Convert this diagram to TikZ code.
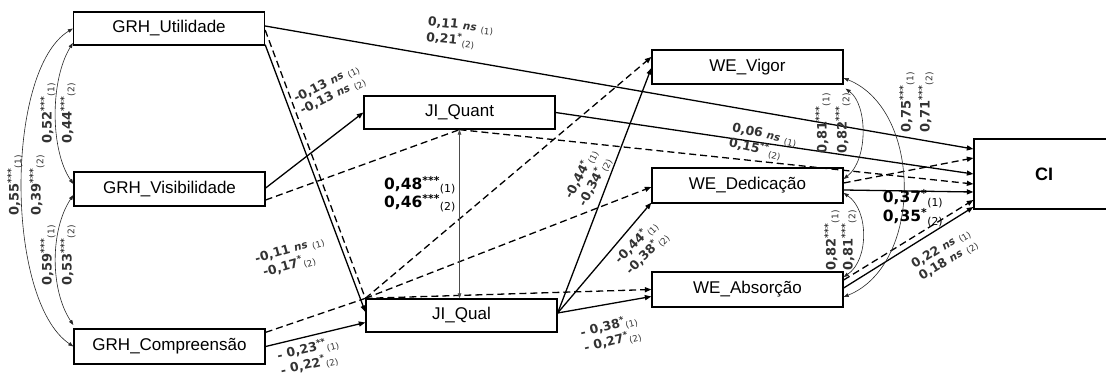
\documentclass[tikz,border=0pt]{standalone}
\usepackage{fontspec}
\setmainfont{Liberation Sans}
\newfontfamily\labfont{DejaVu Sans}
\usetikzlibrary{arrows.meta}
\newcommand\st[1]{\textsuperscript{#1}}
\newcommand\ix[1]{\textsubscript{\mdseries\upshape(#1)}}
\newcommand\nsx{{\itshape\fontsize{10.5}{12}\selectfont ns}}
\begin{document}
\begin{tikzpicture}[x=1pt,y=-1pt,
  box/.style={draw, line width=1.3pt, minimum width=191pt, minimum height=33pt, inner sep=0pt, font=\fontsize{17}{17}\selectfont},
  pth/.style={line width=1.3pt, -{Triangle[length=6.5pt,width=5pt]}},
  ind/.style={line width=1.3pt, dash pattern=on 7pt off 4pt},
  inda/.style={ind, -{Triangle[length=6.5pt,width=5pt]}},
  corr/.style={line width=0.6pt, black!85, {Triangle[length=5pt,width=3.6pt]}-{Triangle[length=5pt,width=3.6pt]}},
  lab/.style={font=\labfont\bfseries\fontsize{12.5}{14}\selectfont, text=black!80, align=left, inner sep=0pt},
  big/.style={font=\labfont\bfseries\fontsize{15.5}{18}\selectfont, align=left, inner sep=0pt},
  rlab/.style={lab, rotate=90, font=\labfont\bfseries\fontsize{13}{15}\selectfont},
]
\clip (0,0) rectangle (1106,385);
% boxes
\node[box] (uti) at (169,28.5) {GRH\_Utilidade};
\node[box, minimum height=34pt] (vis) at (169.5,189) {GRH\_Visibilidade};
\node[box, minimum height=35pt] (com) at (169.5,346.5) {GRH\_Compreensão};
\node[box] (jqt) at (459.5,112.5) {JI\_Quant};
\node[box] (jql) at (461.5,315.5) {JI\_Qual};
\node[box, minimum height=34pt] (vig) at (747.5,67) {WE\_Vigor};
\node[box, minimum height=35pt] (ded) at (747.5,185.5) {WE\_Dedicação};
\node[box, minimum height=35pt] (wab) at (747.5,289.5) {WE\_Absorção};
\node[box, minimum width=140pt, minimum height=70pt, font=\bfseries\fontsize{18}{18}\selectfont] (ci) at (1044,174) {CI};
% direct paths
\draw[pth] ([shift={(0,-2.5)}]uti.east) -- ([shift={(0,-25)}]ci.west);
\draw[pth] ([shift={(0,-1)}]uti.south east) -- ([shift={(0,-3.5)}]jql.west);
\draw[pth] ([shift={(0,-1)}]vis.east) -- (jqt.west);
\draw[pth] (com.east) -- ([shift={(0,7)}]jql.west);
\draw[pth] (jqt.east) -- (ci.west);
\draw[pth] ([shift={(0,-2.5)}]jql.east) -- ([shift={(0,1)}]vig.west);
\draw[pth] ([shift={(0,-2.5)}]jql.east) -- ([shift={(0,-1)}]ded.south west);
\draw[pth] ([shift={(0,-2.5)}]jql.east) -- ([shift={(0,7)}]wab.west);
\draw[pth] ([shift={(0,4.5)}]ded.east) -- ([shift={(0,18)}]ci.west);
\draw[pth] ([shift={(0,-1.5)}]wab.east) -- ([shift={(0,33)}]ci.west);
% indirect (dashed) paths
\draw[ind] ([shift={(0,1.5)}]uti.east) -- (jql.north west);
\draw[ind] ([shift={(0,4)}]com.north east) -- (jql.north west);
\draw[inda] (jql.north west) -- ([shift={(0,-10)}]vig.west);
\draw[inda] (jql.north west) -- ([shift={(0,1.5)}]ded.west);
\draw[inda] (jql.north west) -- (wab.west);
\draw[ind] ([shift={(0,11)}]vis.east) -- (jqt.south);
\draw[inda] (jqt.south) -- ([shift={(0,10)}]ci.west);
\draw[inda] ([shift={(0,-2.5)}]ded.east) -- ([shift={(0,-16)}]ci.west);
\draw[inda] ([shift={(0,-9.5)}]wab.east) -- ([shift={(0,26)}]ci.west);
% correlations
\draw[corr] ([shift={(0,14.5)}]uti.west) .. controls (50,80) and (50,150) .. ([shift={(0,-5)}]vis.west);
\draw[corr] ([shift={(0,6)}]vis.west) .. controls (50,230) and (50,290) .. ([shift={(0,-21.5)}]com.west);
\draw[corr] (uti.west) .. controls (5,70) and (5,300) .. (com.west);
\draw[corr] ([shift={(2,4)}]vig.south east) .. controls (868,105) and (868,160) .. ([shift={(0,-6.5)}]ded.east);
\draw[corr] ([shift={(0,11)}]vig.east) .. controls (923,110) and (923,265) .. ([shift={(0,7.5)}]wab.east);
\draw[corr] ([shift={(0,7.5)}]ded.east) .. controls (869,210) and (869,260) .. ([shift={(0,-12.5)}]wab.east);
\draw[corr, line width=0.7pt, black!70] (jqt.south) -- (jqt.south |- jql.north);
% path labels
\node[lab, rotate=-6] (l1) at (460,34) {0,11 \nsx\ \ix{1}\\0,21\st{*}\ix{2}};
\node[lab, rotate=27] (l2) at (330,90) {-0,13 \nsx\ \ix{1}\\-0,13 \nsx\ \ix{2}};
\node[lab, rotate=16] (l3) at (292,258) {-0,11 \nsx\ \ix{1}\\\hspace{4pt}-0,17\st{*}\ix{2}};
\node[lab, rotate=13] (l4) at (310,357) {- 0,23\st{**}\ix{1}\\- 0,22\st{*}\ix{2}};
\node[big] (l5) at (420,194) {0,48\st{***}\ix{1}\\0,46\st{***}\ix{2}};
\node[lab, rotate=62] (l6) at (588,178) {-0,44\st{*}\ix{1}\\-0,34\st{*}\ix{2}};
\node[lab, rotate=45] (l7) at (642,248) {-0,44\st{*}\ix{1}\\-0,38\st{*}\ix{2}};
\node[lab, rotate=14] (l8) at (611,334) {- 0,38\st{*}\ix{1}\\- 0,27\st{*}\ix{2}};
\node[lab, rotate=-12] (l9) at (763,143) {0,06 \nsx\ \ix{1}\\0,15\st{**}\ix{2}};
\node[big, font=\labfont\bfseries\fontsize{15.5}{14.5}\selectfont] (l10) at (913,208) {0,37\st{*}\ix{1}\\0,35\st{*}\ix{2}};
\node[lab, rotate=32] (l11) at (945,255) {0,22 \nsx\ \ix{1}\\0,18 \nsx\ \ix{2}};
% correlation labels
\node[rlab] (c1a) at (15,185) {0,55\st{***}\ix{1}};
\node[rlab] (c1b) at (37,185) {0,39\st{***}\ix{2}};
\node[rlab] (c2a) at (48,113) {0,52\st{***}\ix{1}};
\node[rlab] (c2b) at (68,113) {0,44\st{***}\ix{2}};
\node[rlab] (c3a) at (48,255) {0,59\st{***}\ix{1}};
\node[rlab] (c3b) at (68,255) {0,53\st{***}\ix{2}};
\node[rlab] (c4a) at (823,123) {0,81\st{***}\ix{1}};
\node[rlab] (c4b) at (843,123) {0,82\st{***}\ix{2}};
\node[rlab] (c5a) at (907,102) {0,75\st{***}\ix{1}};
\node[rlab] (c5b) at (926,102) {0,71\st{***}\ix{2}};
\node[rlab] (c6a) at (832,240) {0,82\st{***}\ix{1}};
\node[rlab] (c6b) at (849,240) {0,81\st{***}\ix{2}};
\end{tikzpicture}
\end{document}
